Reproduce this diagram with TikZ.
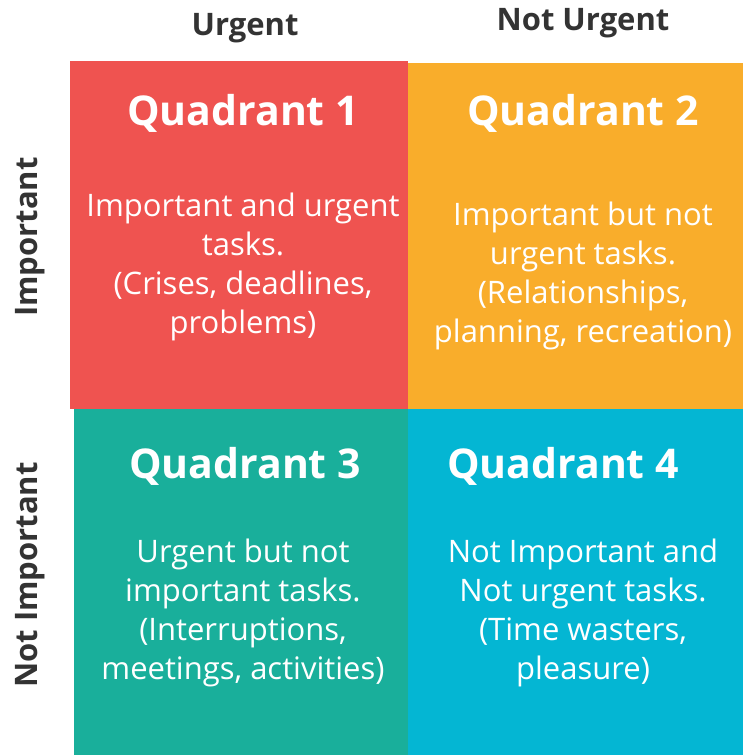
\documentclass[tikz,border=0pt]{standalone}
\usepackage{fontspec}
\setmainfont{Open Sans}
\definecolor{qred}{HTML}{EF5350}
\definecolor{qorange}{HTML}{F9AD2B}
\definecolor{qteal}{HTML}{19AF9B}
\definecolor{qblue}{HTML}{04B6D3}
\definecolor{headgray}{HTML}{333333}
\tikzset{
  head/.style={text=headgray,font=\fontsize{31}{35}\selectfont\bfseries},
  title/.style={text=white,font=\fontsize{41}{46}\selectfont\bfseries},
  body/.style={text=white,align=center,font=\fontsize{31}{39}\selectfont}
}
\begin{document}
\begin{tikzpicture}[x=1pt,y=-1pt]
\useasboundingbox (0,0) rectangle (743,755);
\fill[qred] (70,61) rectangle (408,409);
\fill[qorange] (408,63) rectangle (743,409);
\fill[qteal] (74,409) rectangle (408,755);
\fill[qblue] (408,409) rectangle (743,755);
\node[head] (urg) at (245,28) {Urgent};
\node[head] (nurg) at (583,23) {Not Urgent};
\node[head,rotate=90] (imp) at (30,237) {Important};
\node[head,rotate=90] (nimp) at (30,575) {Not Important};
\node[title] (t1) at (243,113) {Quadrant 1};
\node[title] (t2) at (583,113) {Quadrant 2};
\node[title] (t3) at (245,466) {Quadrant 3};
\node[title] (t4) at (563,466) {Quadrant 4};
\node[body] (b1) at (243,267) {Important and urgent\\tasks.\\(Crises, deadlines,\\problems)};
\node[body] (b2) at (583,276) {Important but not\\urgent tasks.\\(Relationships,\\planning, recreation)};
\node[body] (b3) at (243,613) {Urgent but not\\important tasks.\\(Interruptions,\\meetings, activities)};
\node[body] (b4) at (583,613) {Not Important and\\Not urgent tasks.\\(Time wasters,\\pleasure)};
\end{tikzpicture}
\end{document}
